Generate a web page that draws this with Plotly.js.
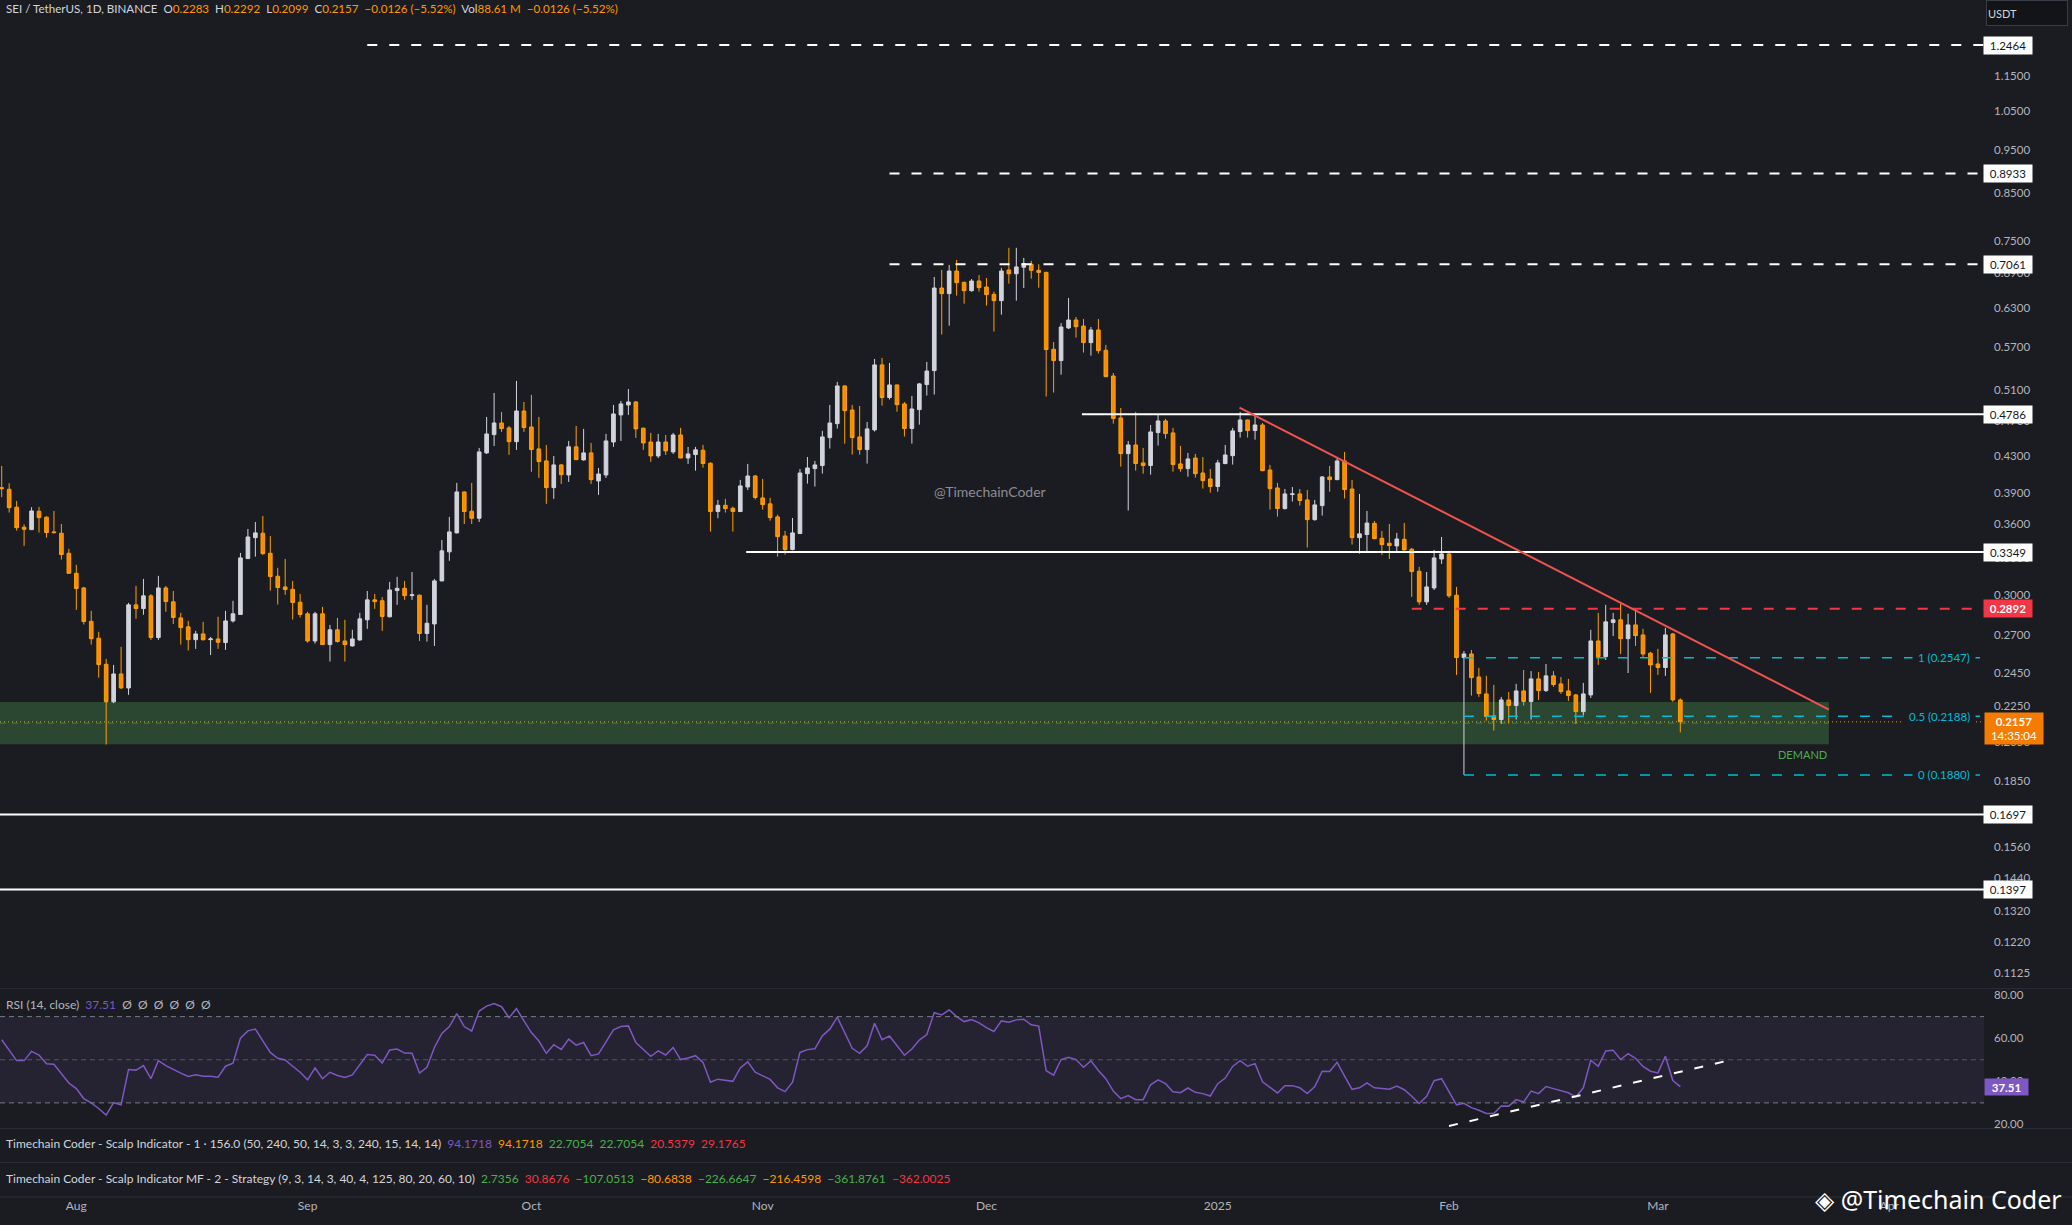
<!DOCTYPE html>
<html><head><meta charset="utf-8">
<script src="https://cdn.plot.ly/plotly-3.0.1.min.js"></script>
<style>html,body{margin:0;padding:0;background:#1b1c21;}#chart{width:2072px;height:1225px;}</style>
</head><body><div id="chart"></div>
<script>
// ---------- DATA ----------
const firstDay = [2024, 6, 22]; // 22 Jul 2024, daily candles
const open = [
0.3958,0.3941,0.3762,0.3572,0.3550,0.3723,0.3666,0.3529,0.3517,0.3339,
0.3170,0.3052,0.2799,0.2679,0.2504,0.2272,0.2442,0.2355,0.2921,0.2893,
0.2990,0.2684,0.3052,0.2944,0.2824,0.2759,0.2669,0.2709,0.2669,0.2674,
0.2649,0.2802,0.2849,0.3293,0.3477,0.3517,0.3339,0.3146,0.3060,0.3041,
0.2941,0.2854,0.2660,0.2854,0.2635,0.2738,0.2660,0.2626,0.2667,0.2810,
0.2959,0.2952,0.2832,0.3031,0.3049,0.2992,0.2995,0.2712,0.2780,0.3108,
0.3351,0.3520,0.3914,0.3723,0.3656,0.4331,0.4541,0.4680,0.4621,0.4459,
0.4828,0.4632,0.4376,0.4242,0.3958,0.4198,0.4090,0.4399,0.4253,0.4331,
0.4027,0.4090,0.4455,0.4779,0.4904,0.4942,0.4617,0.4455,0.4297,0.4455,
0.4342,0.4537,0.4274,0.4312,0.4361,0.4216,0.3720,0.3781,0.3752,0.3720,
0.3965,0.4079,0.3854,0.3795,0.3669,0.3492,0.3371,0.3514,0.4104,0.4158,
0.4191,0.4506,0.4672,0.5152,0.4840,0.4514,0.4368,0.4597,0.5440,0.4999,
0.5165,0.4917,0.4613,0.4845,0.5170,0.5360,0.6640,0.6544,0.6939,0.6739,
0.6594,0.6762,0.6657,0.6532,0.6426,0.6958,0.6890,0.7007,0.7062,0.6951,
0.6914,0.5666,0.5501,0.5987,0.6112,0.6017,0.5764,0.5956,0.5651,0.5286,
0.4742,0.4323,0.4421,0.4220,0.4191,0.4565,0.4705,0.4561,0.4209,0.4158,
0.4274,0.4111,0.4048,0.3969,0.4213,0.4300,0.4577,0.4717,0.4589,0.4656,
0.4143,0.3955,0.3749,0.3888,0.3894,0.3834,0.3643,0.3778,0.4069,0.4041,
0.4242,0.3944,0.3477,0.3505,0.3608,0.3471,0.3427,0.3403,0.3462,0.3374,
0.3187,0.2944,0.3052,0.3290,0.3333,0.2995,0.2548,0.2572,0.2423,0.2319,
0.2191,0.2170,0.2283,0.2250,0.2337,0.2274,0.2411,0.2339,0.2430,0.2380,
0.2337,0.2313,0.2215,0.2313,0.2660,0.2554,0.2790,0.2810,0.2676,0.2773,
0.2702,0.2577,0.2506,0.2483,0.2709,0.2283];
const high = [
0.4187,0.4003,0.3824,0.3599,0.3762,0.3765,0.3675,0.3726,0.3602,0.3377,
0.3240,0.3060,0.2876,0.2724,0.2539,0.2500,0.2620,0.2936,0.3068,0.3124,
0.3003,0.3149,0.3068,0.3028,0.2861,0.2802,0.2731,0.2795,0.2688,0.2832,
0.2876,0.2952,0.3342,0.3556,0.3621,0.3678,0.3492,0.3215,0.3290,0.3108,
0.3005,0.2869,0.2869,0.2906,0.2773,0.2824,0.2810,0.2738,0.2861,0.3028,
0.3005,0.2980,0.3100,0.3141,0.3108,0.3181,0.3000,0.2921,0.3124,0.3456,
0.3669,0.4007,0.3920,0.4007,0.4387,0.4754,0.5059,0.4816,0.4644,0.5219,
0.4942,0.5033,0.4754,0.4421,0.4297,0.4209,0.4467,0.4644,0.4609,0.4444,
0.4165,0.4549,0.4904,0.4955,0.5111,0.4955,0.4625,0.4561,0.4549,0.4537,
0.4561,0.4621,0.4399,0.4399,0.4421,0.4227,0.3834,0.3844,0.3768,0.4038,
0.4209,0.4090,0.4048,0.3854,0.3691,0.3538,0.3659,0.4154,0.4285,0.4242,
0.4585,0.4904,0.5206,0.5160,0.4904,0.4891,0.4692,0.5525,0.5539,0.5468,
0.5170,0.4942,0.5020,0.5192,0.5482,0.6832,0.6958,0.7050,0.7142,0.6750,
0.6797,0.6867,0.6815,0.6577,0.6995,0.7369,0.7369,0.7180,0.7124,0.7062,
0.6927,0.5773,0.6063,0.6471,0.6160,0.6128,0.6002,0.6128,0.5730,0.5327,
0.4866,0.4467,0.4816,0.4387,0.4656,0.4791,0.4730,0.4621,0.4410,0.4331,
0.4319,0.4285,0.4154,0.4253,0.4421,0.4621,0.4816,0.4722,0.4791,0.4680,
0.4198,0.4007,0.3944,0.3965,0.3944,0.3934,0.3834,0.4079,0.4187,0.4285,
0.4342,0.4038,0.3894,0.3726,0.3630,0.3538,0.3602,0.3520,0.3611,0.3386,
0.3223,0.3181,0.3368,0.3483,0.3360,0.3060,0.2592,0.2599,0.2481,0.2430,
0.2374,0.2301,0.2331,0.2380,0.2467,0.2460,0.2454,0.2506,0.2460,0.2423,
0.2411,0.2319,0.2386,0.2738,0.2861,0.2921,0.2861,0.2928,0.2854,0.2891,
0.2745,0.2586,0.2606,0.2752,0.2716,0.2292];
const low = [
0.3861,0.3710,0.3541,0.3403,0.3547,0.3523,0.3477,0.3514,0.3285,0.3167,
0.2883,0.2776,0.2635,0.2419,0.2034,0.2264,0.2349,0.2313,0.2817,0.2847,
0.2667,0.2667,0.2869,0.2780,0.2635,0.2595,0.2606,0.2662,0.2565,0.2606,
0.2599,0.2790,0.2847,0.3290,0.3310,0.3324,0.3031,0.2923,0.2998,0.2812,
0.2827,0.2649,0.2642,0.2635,0.2522,0.2649,0.2522,0.2622,0.2662,0.2745,
0.2891,0.2731,0.2828,0.2921,0.2959,0.2959,0.2660,0.2656,0.2626,0.3105,
0.3274,0.3515,0.3602,0.3602,0.3621,0.4319,0.4410,0.4573,0.4308,0.4365,
0.4573,0.4124,0.4059,0.3795,0.3844,0.3996,0.4017,0.4250,0.4245,0.3996,
0.3884,0.4059,0.4399,0.4467,0.4779,0.4502,0.4365,0.4231,0.4274,0.4308,
0.4319,0.4270,0.4209,0.4136,0.4169,0.3532,0.3656,0.3710,0.3532,0.3715,
0.3934,0.3838,0.3739,0.3633,0.3310,0.3327,0.3365,0.3511,0.4000,0.3969,
0.4104,0.4380,0.4613,0.4436,0.4312,0.4312,0.4213,0.4577,0.4895,0.4973,
0.4820,0.4518,0.4436,0.4660,0.5025,0.5038,0.5885,0.6022,0.6510,0.6376,
0.6577,0.6577,0.6343,0.5931,0.6197,0.6716,0.6426,0.6640,0.6803,0.6646,
0.5012,0.5063,0.5304,0.5971,0.5839,0.5617,0.5572,0.5602,0.5272,0.4672,
0.4180,0.3730,0.4136,0.4104,0.4093,0.4414,0.4494,0.4125,0.4125,0.4072,
0.4062,0.3948,0.3907,0.3917,0.4205,0.4202,0.4506,0.4506,0.4482,0.4130,
0.3739,0.3672,0.3739,0.3818,0.3778,0.3389,0.3633,0.3682,0.3917,0.4035,
0.3848,0.3415,0.3336,0.3354,0.3462,0.3324,0.3290,0.3342,0.3362,0.2982,
0.2921,0.2921,0.3036,0.3248,0.2975,0.2436,0.1880,0.2309,0.2301,0.2164,
0.2109,0.2147,0.2147,0.2170,0.2250,0.2170,0.2283,0.2331,0.2362,0.2319,
0.2277,0.2147,0.2193,0.2295,0.2500,0.2532,0.2695,0.2572,0.2448,0.2626,
0.2552,0.2325,0.2436,0.2430,0.2272,0.2099];
const close = [
0.3948,0.3758,0.3568,0.3553,0.3726,0.3662,0.3523,0.3523,0.3328,0.3170,
0.3047,0.2797,0.2676,0.2502,0.2272,0.2442,0.2355,0.2921,0.2893,0.2990,
0.2684,0.3052,0.2946,0.2827,0.2754,0.2669,0.2709,0.2669,0.2674,0.2651,
0.2802,0.2854,0.3299,0.3483,0.3520,0.3336,0.3143,0.3055,0.3039,0.2939,
0.2849,0.2660,0.2854,0.2635,0.2738,0.2656,0.2635,0.2674,0.2817,0.2959,
0.2946,0.2834,0.3036,0.3049,0.2992,0.2998,0.2712,0.2785,0.3108,0.3360,
0.3529,0.3914,0.3720,0.3656,0.4342,0.4549,0.4680,0.4613,0.4459,0.4828,
0.4625,0.4368,0.4234,0.3958,0.4198,0.4093,0.4399,0.4256,0.4331,0.4041,
0.4100,0.4467,0.4791,0.4917,0.4942,0.4609,0.4444,0.4297,0.4455,0.4353,
0.4537,0.4274,0.4319,0.4365,0.4213,0.3720,0.3781,0.3749,0.3720,0.3976,
0.4079,0.3858,0.3788,0.3662,0.3486,0.3371,0.3520,0.4111,0.4165,0.4198,
0.4514,0.4680,0.5152,0.4832,0.4506,0.4368,0.4609,0.5440,0.4999,0.5165,
0.4908,0.4613,0.4853,0.5179,0.5355,0.6640,0.6544,0.6939,0.6733,0.6594,
0.6762,0.6646,0.6527,0.6426,0.6939,0.6890,0.7013,0.7075,0.6951,0.6914,
0.5661,0.5501,0.6002,0.6112,0.6007,0.5764,0.5956,0.5646,0.5277,0.4734,
0.4323,0.4421,0.4213,0.4191,0.4573,0.4705,0.4553,0.4202,0.4158,0.4264,
0.4104,0.4031,0.3969,0.4220,0.4308,0.4585,0.4717,0.4589,0.4656,0.4136,
0.3948,0.3749,0.3894,0.3894,0.3828,0.3643,0.3785,0.4069,0.4041,0.4242,
0.3938,0.3477,0.3511,0.3611,0.3468,0.3415,0.3406,0.3465,0.3368,0.3184,
0.2944,0.3060,0.3299,0.3333,0.2990,0.2548,0.2572,0.2419,0.2321,0.2187,
0.2170,0.2283,0.2250,0.2337,0.2274,0.2411,0.2339,0.2430,0.2376,0.2333,
0.2309,0.2215,0.2319,0.2660,0.2554,0.2795,0.2810,0.2676,0.2773,0.2697,
0.2572,0.2500,0.2483,0.2702,0.2283,0.2157];
const rsi = [
59.3,54.2,49.6,49.6,53.9,52.2,48.1,47.9,43.5,39.2,
36.6,32.0,30.0,27.4,24.3,30.1,29.1,45.5,45.2,47.3,
41.2,49.6,47.3,45.5,43.8,42.3,43.0,42.4,42.4,41.9,
47.0,48.4,60.0,63.4,64.2,58.8,53.4,50.7,49.9,47.0,
44.2,40.7,46.2,41.2,44.2,42.7,41.8,43.0,47.6,52.4,
52.1,48.5,54.5,55.0,53.1,53.0,43.8,46.5,55.7,62.2,
65.4,71.4,65.4,63.3,72.6,74.9,76.1,74.6,69.5,73.7,
68.0,62.6,58.7,53.0,57.0,54.8,59.6,56.8,58.0,51.9,
52.7,58.3,63.9,65.4,65.7,58.0,55.0,51.6,54.1,52.2,
55.7,50.1,50.8,51.9,48.8,39.6,41.0,40.6,40.0,46.2,
49.0,44.2,42.7,40.9,37.0,35.2,39.6,53.4,54.7,55.1,
61.1,64.2,69.8,62.6,55.3,53.0,56.5,66.9,59.3,61.0,
56.8,52.1,55.0,59.1,61.7,71.8,70.8,73.1,70.0,67.7,
68.6,67.1,64.9,63.1,68.0,67.4,68.5,68.8,66.2,65.6,
44.9,42.9,50.1,51.1,50.1,46.5,49.5,45.0,41.2,35.5,
32.0,33.4,31.5,31.5,38.4,40.7,38.9,35.2,34.7,36.9,
34.9,34.3,33.2,38.9,41.5,46.9,49.6,47.0,48.2,39.8,
37.2,34.6,38.0,38.0,37.0,34.3,37.6,44.7,44.6,48.8,
42.4,36.3,37.0,39.3,37.0,36.6,36.3,37.8,36.1,33.1,
29.7,33.1,40.3,41.2,35.4,29.1,29.8,27.8,26.6,25.1,
25.1,28.6,28.5,31.5,30.4,35.5,34.3,37.6,36.6,35.7,
34.7,32.7,37.0,49.8,47.0,54.1,54.4,50.1,52.8,50.7,
46.9,44.7,43.9,51.6,40.4,37.51];

const monthTicks = ['2024-08-01','2024-09-01','2024-10-01','2024-11-01','2024-12-01','2025-01-01','2025-02-01','2025-03-01','2025-04-01'];
const monthLabels = ['Aug','Sep','Oct','Nov','Dec','2025','Feb','Mar','Apr'];
const priceTicks = [1.15,1.05,0.95,0.85,0.75,0.69,0.63,0.57,0.51,0.47,0.43,0.39,0.36,0.33,0.30,0.27,0.245,0.225,0.205,0.185,0.156,0.144,0.132,0.122,0.1125];
const rsiTicks = [20,40,60,80];

// drawn levels
const dashedLevels = [1.2464, 0.8933, 0.7061];
const dashedStarts = ['2024-09-09', '2024-11-18', '2024-11-18'];
const solidLevels = [0.4786, 0.3349, 0.1697, 0.1397];
const solidStarts = ['2024-12-13 19:00', '2024-10-29 19:00', null, null];
const resistance = 0.2892, resistanceStart = '2025-01-27';
const fibLevels = [0.2547, 0.2188, 0.1880];
const fibNames = ['1', '0.5', '0'];
const fibStart = '2025-02-03';
const demandLow = 0.2035, demandHigh = 0.2271, demandMid = 0.2150;
const trendX = ['2025-01-03 22:00', '2025-03-23 22:00'];
const trendY = [0.4869, 0.2227];
const rsiTrendX = ['2025-02-01', '2025-03-11'];
const rsiTrendY = [19.3, 50.1];
const volumeText = '88.61\u00A0M';
const countdown = '14:35:04';
const ind1Values = ['94.1718','94.1718','22.7054','22.7054','20.5379','29.1765'];
const ind2Values = ['2.7356','30.8676','\u2212107.0513','\u221280.6838','\u2212226.6647','\u2212216.4598','\u2212361.8761','\u2212362.0025'];

// ---------- build ----------
const dates = open.map((_, i) => new Date(Date.UTC(firstDay[0], firstDay[1], firstDay[2]) + i * 86400000).toISOString().slice(0, 10));
const xStart = '2024-07-21 18:30', xEnd = '2025-04-13 17:00';
const zoneEnd = trendX[1];
const BG = '#1b1c21';
const FONT = 'Lato, "Noto Sans", "DejaVu Sans", sans-serif';
const TXT = '#b2b5be';
const ORANGE = '#ff9800';
const CYAN = '#00bcd4';
const RED = '#f23645';
const GREEN = '#4caf50';
const PURPLE = '#7e57c2';
const fmt4 = v => v.toFixed(4);

function hline(x0, x1, y, color, width, dash) {
  return {type: 'scatter', mode: 'lines', x: [x0, x1], y: [y, y], xaxis: 'x', yaxis: 'y',
          line: {color: color, width: width, dash: dash}, hoverinfo: 'skip', showlegend: false};
}

const traces = [];
dashedLevels.forEach((v, i) => traces.push(hline(dashedStarts[i], xEnd, v, '#ffffff', 2, '10px,12px')));
solidLevels.forEach((v, i) => traces.push(hline(solidStarts[i] || xStart, xEnd, v, '#ffffff', 2, 'solid')));
traces.push(hline(resistanceStart, xEnd, resistance, RED, 2, '10px,12px'));
fibLevels.forEach(v => traces.push(hline(fibStart, xEnd, v, CYAN, 1.5, '10px,12px')));
traces.push(hline(xStart, xEnd, close[close.length - 1], ORANGE, 1, '1px,3px'));
traces.push({type: 'scatter', mode: 'lines', x: trendX, y: trendY, xaxis: 'x', yaxis: 'y',
  line: {color: '#ef5350', width: 2}, hoverinfo: 'skip', showlegend: false});
traces.push({type: 'candlestick', x: dates, open: open, high: high, low: low, close: close,
  xaxis: 'x', yaxis: 'y', showlegend: false, hoverinfo: 'skip',
  increasing: {line: {color: '#d1d4dc', width: 1}, fillcolor: '#d1d4dc'},
  decreasing: {line: {color: '#ffa000', width: 1}, fillcolor: '#fb8c00'}});
traces.push({type: 'scatter', mode: 'lines', x: dates, y: rsi, xaxis: 'x', yaxis: 'y2',
  line: {color: PURPLE, width: 1.5}, hoverinfo: 'skip', showlegend: false});
traces.push({type: 'scatter', mode: 'lines', x: rsiTrendX, y: rsiTrendY, xaxis: 'x', yaxis: 'y2',
  line: {color: '#ffffff', width: 2, dash: '9px,12px'}, hoverinfo: 'skip', showlegend: false});

// pane geometry (paper units): total plot height 1197 px
const sepPrice = 0.1741, sepRsi = 0.0571, sepInd = 0.0288;

const shapes = [
  // demand zone (below the candles)
  {type: 'rect', xref: 'x', yref: 'y', x0: xStart, x1: zoneEnd, y0: demandLow, y1: demandHigh, fillcolor: '#2b4731', line: {width: 0}, layer: 'below'},
  {type: 'line', xref: 'x', yref: 'y', x0: xStart, x1: zoneEnd, y0: demandMid, y1: demandMid, line: {color: 'rgba(76,175,80,0.6)', width: 1, dash: '6px,6px'}, layer: 'below'},
  {type: 'rect', xref: 'paper', yref: 'y2', x0: 0, x1: 1, y0: 30, y1: 70, fillcolor: 'rgba(126,87,194,0.10)', line: {width: 0}, layer: 'below'},
  {type: 'line', xref: 'paper', yref: 'y2', x0: 0, x1: 1, y0: 70, y1: 70, line: {color: '#787b86', width: 1, dash: '5px,4px'}},
  {type: 'line', xref: 'paper', yref: 'y2', x0: 0, x1: 1, y0: 50, y1: 50, line: {color: 'rgba(120,123,134,0.6)', width: 1, dash: '5px,4px'}},
  {type: 'line', xref: 'paper', yref: 'y2', x0: 0, x1: 1, y0: 30, y1: 30, line: {color: '#787b86', width: 1, dash: '5px,4px'}}
];
[sepPrice, sepRsi, sepInd, 0].forEach(p => shapes.push({type: 'line', xref: 'paper', yref: 'paper', x0: 0, x1: 1.045, y0: p, y1: p, line: {color: '#2a2e39', width: 1}}));

const last = close.length - 1;
const chg = close[last] - close[last - 1];
const pct = chg / close[last - 1] * 100;
const chgTxt = (chg < 0 ? '\u2212' : '+') + Math.abs(chg).toFixed(4) + ' (' + (pct < 0 ? '\u2212' : '+') + Math.abs(pct).toFixed(2) + '%)';
const o = s => '<span style="color:' + ORANGE + '">' + s + '</span>';
const sp = '\u00A0\u00A0';
const header = 'SEI / TetherUS, 1D, BINANCE' + sp + 'O' + o(fmt4(open[last])) + sp + 'H' + o(fmt4(high[last])) + sp +
  'L' + o(fmt4(low[last])) + sp + 'C' + o(fmt4(close[last])) + sp + o(chgTxt) + sp + 'Vol' + o(volumeText) + sp + o(chgTxt);

const col = (s, c) => '<span style="color:' + c + '">' + s + '</span>';
const ind1Colors = [PURPLE, ORANGE, GREEN, GREEN, RED, RED];
const ind2Colors = [GREEN, RED, GREEN, ORANGE, GREEN, ORANGE, GREEN, RED];
const ind1 = 'Timechain Coder - Scalp Indicator - 1 \u00B7 156.0 (50, 240, 50, 14, 3, 3, 240, 15, 14, 14)' + sp + ind1Values.map((v, i) => col(v, ind1Colors[i])).join(sp);
const ind2 = 'Timechain Coder - Scalp Indicator MF - 2 - Strategy (9, 3, 14, 3, 40, 4, 125, 80, 20, 60, 10)' + sp + ind2Values.map((v, i) => col(v, ind2Colors[i])).join(sp);
const rsiTitle = 'RSI (14, close)' + sp + col(rsi[last].toFixed(2), PURPLE) + sp + '\u00D8\u00A0\u00A0\u00D8\u00A0\u00A0\u00D8\u00A0\u00A0\u00D8\u00A0\u00A0\u00D8\u00A0\u00A0\u00D8';

const annotations = [
  {xref: 'paper', yref: 'paper', x: 0.002, y: 0.9925, xanchor: 'left', yanchor: 'middle', showarrow: false, text: header, font: {family: FONT, size: 11.6, color: '#d1d4dc'}},
  {xref: 'paper', yref: 'paper', x: 0.002, y: 0.1612, xanchor: 'left', yanchor: 'middle', showarrow: false, text: rsiTitle, font: {family: FONT, size: 12, color: TXT}},
  {xref: 'paper', yref: 'paper', x: 0.002, y: 0.0443, xanchor: 'left', yanchor: 'middle', showarrow: false, text: ind1, font: {family: FONT, size: 12, color: '#d1d4dc'}},
  {xref: 'paper', yref: 'paper', x: 0.002, y: 0.0155, xanchor: 'left', yanchor: 'middle', showarrow: false, text: ind2, font: {family: FONT, size: 12, color: '#d1d4dc'}},
  {xref: 'paper', yref: 'paper', x: 0.499, y: 0.5893, xanchor: 'center', yanchor: 'middle', showarrow: false, text: '@TimechainCoder', font: {family: FONT, size: 14, color: '#8a8d96'}},
  {xref: 'paper', yref: 'paper', x: 0.9219, y: 0.3697, xanchor: 'right', yanchor: 'middle', showarrow: false, text: 'DEMAND', font: {family: FONT, size: 11, color: GREEN}},
  {xref: 'paper', yref: 'paper', x: 1.0219, y: 0.9895, xanchor: 'center', yanchor: 'middle', showarrow: false, text: 'USDT', width: 78, height: 22, align: 'left', bgcolor: '#131418', bordercolor: '#3a3d46', borderwidth: 1, font: {family: FONT, size: 11, color: '#d1d4dc'}},
  {xref: 'paper', yref: 'paper', x: 1.0403, y: -0.002, xanchor: 'right', yanchor: 'middle', showarrow: false, text: '\u25C8 @Timechain Coder', font: {family: '"Noto Sans", "DejaVu Sans", sans-serif', size: 25, color: '#ffffff'}}
];
fibLevels.forEach((v, i) => annotations.push({xref: 'paper', yref: 'y', x: 0.996, y: Math.log10(v), xanchor: 'right', yanchor: 'middle', showarrow: false,
  text: fibNames[i] + ' (' + fmt4(v) + ')', bgcolor: BG, borderpad: 5, font: {family: FONT, size: 11.5, color: CYAN}}));
const boxLevels = dashedLevels.concat(solidLevels);
boxLevels.forEach(v => annotations.push({xref: 'paper', yref: 'y', x: 0.9995, y: Math.log10(v), xanchor: 'left', yanchor: 'middle', showarrow: false,
  text: fmt4(v), width: 48, height: 17, bgcolor: '#ffffff', borderpad: 0, font: {family: FONT, size: 11.5, color: '#131722'}}));
annotations.push({xref: 'paper', yref: 'y', x: 0.9995, y: Math.log10(resistance), xanchor: 'left', yanchor: 'middle', showarrow: false,
  text: '<b>' + fmt4(resistance) + '</b>', width: 48, height: 17, bgcolor: RED, borderpad: 0, font: {family: FONT, size: 11.5, color: '#ffffff'}});
annotations.push({xref: 'paper', yref: 'y', x: 1.0, y: Math.log10(close[last]), xanchor: 'left', yanchor: 'top', yshift: 10, showarrow: false,
  text: '<b>' + fmt4(close[last]) + '</b><br>' + countdown, width: 58, height: 31, bgcolor: '#f57c00', borderpad: 0, align: 'center', font: {family: FONT, size: 11.5, color: '#ffffff'}});
annotations.push({xref: 'paper', yref: 'y2', x: 1.0, y: rsi[last], xanchor: 'left', yanchor: 'middle', showarrow: false,
  text: '<b>' + rsi[last].toFixed(2) + '</b>', width: 43, height: 16, bgcolor: PURPLE, borderpad: 0, font: {family: FONT, size: 11.5, color: '#ffffff'}});

const layout = {
  width: 2072, height: 1225,
  margin: {l: 0, r: 88, t: 0, b: 28, pad: 0},
  paper_bgcolor: BG, plot_bgcolor: BG,
  showlegend: false,
  font: {family: FONT, color: TXT, size: 12},
  xaxis: {type: 'date', range: [xStart, xEnd], domain: [0, 1], anchor: 'free', position: 0,
    rangeslider: {visible: false}, showgrid: false, zeroline: false, showline: false, ticks: '',
    tickmode: 'array', tickvals: monthTicks, ticktext: monthLabels, tickfont: {family: FONT, size: 12, color: TXT}, automargin: false},
  yaxis: {type: 'log', domain: [sepPrice, 1], range: [-0.96641, 0.14635], side: 'right', anchor: 'x',
    showgrid: false, zeroline: false, showline: false, ticks: '', ticklabelstandoff: 9,
    tickmode: 'array', tickvals: priceTicks, ticktext: priceTicks.map(fmt4), tickfont: {family: FONT, size: 11.5, color: TXT}, automargin: false, fixedrange: true},
  yaxis2: {domain: [sepRsi, sepPrice], range: [18.05, 83.0], side: 'right', anchor: 'x',
    showgrid: false, zeroline: false, showline: false, ticks: '', ticklabelstandoff: 9,
    tickmode: 'array', tickvals: rsiTicks, ticktext: rsiTicks.map(v => v.toFixed(2)), tickfont: {family: FONT, size: 11.5, color: TXT}, automargin: false},
  shapes: shapes,
  annotations: annotations
};

Plotly.newPlot('chart', traces, layout, {displayModeBar: false, staticPlot: true});
</script>
</body></html>
